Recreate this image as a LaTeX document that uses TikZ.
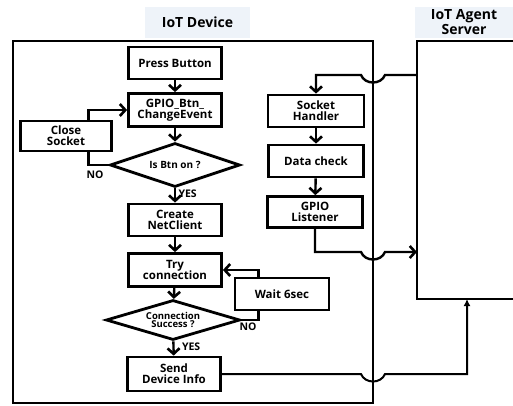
\documentclass[tikz,border=0pt]{standalone}
\usepackage{fontspec}
\setmainfont{Open Sans}
\usetikzlibrary{arrows.meta,shapes.geometric,backgrounds}
\definecolor{titlebg}{HTML}{EEF3F9}

\tikzset{
  stepbox/.style={draw, line width=2.8pt, fill=white, align=center,
    minimum width=93pt, minimum height=32pt, font=\bfseries\fontsize{11.5}{13}\selectfont},
  decide/.style={draw, diamond, aspect=3, line width=2.8pt, fill=white, align=center,
    inner sep=0pt, font=\bfseries\fontsize{10}{11}\selectfont},
  flow/.style={line width=2.4pt, -{Straight Barb[length=5.5pt,width=12pt,line width=2.6pt]}},
  conn/.style={line width=2pt},
  tag/.style={font=\bfseries\fontsize{10.5}{11}\selectfont},
  title/.style={fill=titlebg, align=center, font=\bfseries\fontsize{14}{15.5}\selectfont}
}

\begin{document}
\begin{tikzpicture}[x=1pt,y=-1pt]
  \useasboundingbox (0,0) rectangle (513,405);

  % titles
  \node[title, minimum width=105pt, minimum height=31pt] (devtitle) at (197.5,22) {IoT Device};
  \node[title, minimum width=99pt, minimum height=31pt, inner sep=0pt] (srvtitle) at (464,22) {IoT Agent\\Server};

  % device and server frames
  \draw[line width=2.4pt] (13,41) rectangle (373,403);
  \draw[line width=2.4pt] (520,41) -- (417,41) -- (417,299) -- (520,299);

  % device flow
  \node[stepbox] (press) at (175,63) {Press Button};
  \node[stepbox, minimum height=33pt] (gpio) at (175,110) {GPIO\_Btn\_\\[-2pt]ChangeEvent};
  \node[stepbox, minimum width=91pt, minimum height=30pt] (close) at (66,136) {Close\\[-2pt]Socket};
  \node[decide, minimum width=130pt, minimum height=44pt] (isbtn) at (175,165) {Is Btn on ?};
  \node[stepbox] (create) at (175,220) {Create\\[-2pt]NetClient};
  \node[stepbox, minimum height=33pt] (try) at (175,270) {Try\\[-2pt]connection};
  \node[stepbox, minimum width=94pt, minimum height=32pt] (wait) at (282,294) {Wait 6sec};
  \node[decide, minimum width=134pt, minimum height=40pt, font=\bfseries\fontsize{9.5}{10}\selectfont] (success) at (173,320) {Connection\\[-2pt]Success ?};
  \node[stepbox, minimum height=34pt] (send) at (174,374) {Send\\[-2pt]Device Info};

  % socket side
  \node[stepbox, minimum width=96pt] (sock) at (316,111) {Socket\\[-2pt]Handler};
  \node[stepbox, minimum width=95pt] (check) at (316,161) {Data check};
  \node[stepbox, minimum width=95pt, minimum height=31pt] (listen) at (315,212) {GPIO\\[-2pt]Listener};

  % server ports
  \coordinate (srvin) at (417,75);
  \coordinate (srvgpio) at (417,252);
  \coordinate (srvbot) at (467,299);

  \draw[flow] (press) -- (gpio);
  \draw[flow] (gpio) -- (isbtn);
  \draw[flow] (isbtn) -- (create) node[tag, pos=0.35, right=-1pt] {YES};
  \draw[flow] (create) -- (try);
  \draw[flow] (try) -- (success);
  \draw[flow] (success) -- (send) node[tag, pos=0.4, right=4pt] {YES};
  \draw[flow] (sock) -- (check);
  \draw[flow] (check) -- (listen);

  % loops, behind the boxes
  \begin{scope}[on background layer]
    \draw[flow] (isbtn.west) -- ++(-20,0) |- (gpio.west);
    \draw[flow] (success.east) -- ++(17,0) |- (try.east);
  \end{scope}
  \node[tag] at (95,175) {NO};
  \node[tag] at (248,327) {NO};

  % links to the server, hopping over the device frame
  \draw[flow] (srvin) -- (385,75) .. controls (381,85) and (365,85) .. (361,75) -| (sock.north);
  \draw[flow] (listen.south) |- (361,252) .. controls (365,262) and (381,262) .. (385,252) -- (srvgpio);
  \draw[conn, -{Latex[length=7pt,width=7pt]}] (send.east) -- (361,374)
    .. controls (365,384) and (381,384) .. (385,374) -| (srvbot);
\end{tikzpicture}
\end{document}
